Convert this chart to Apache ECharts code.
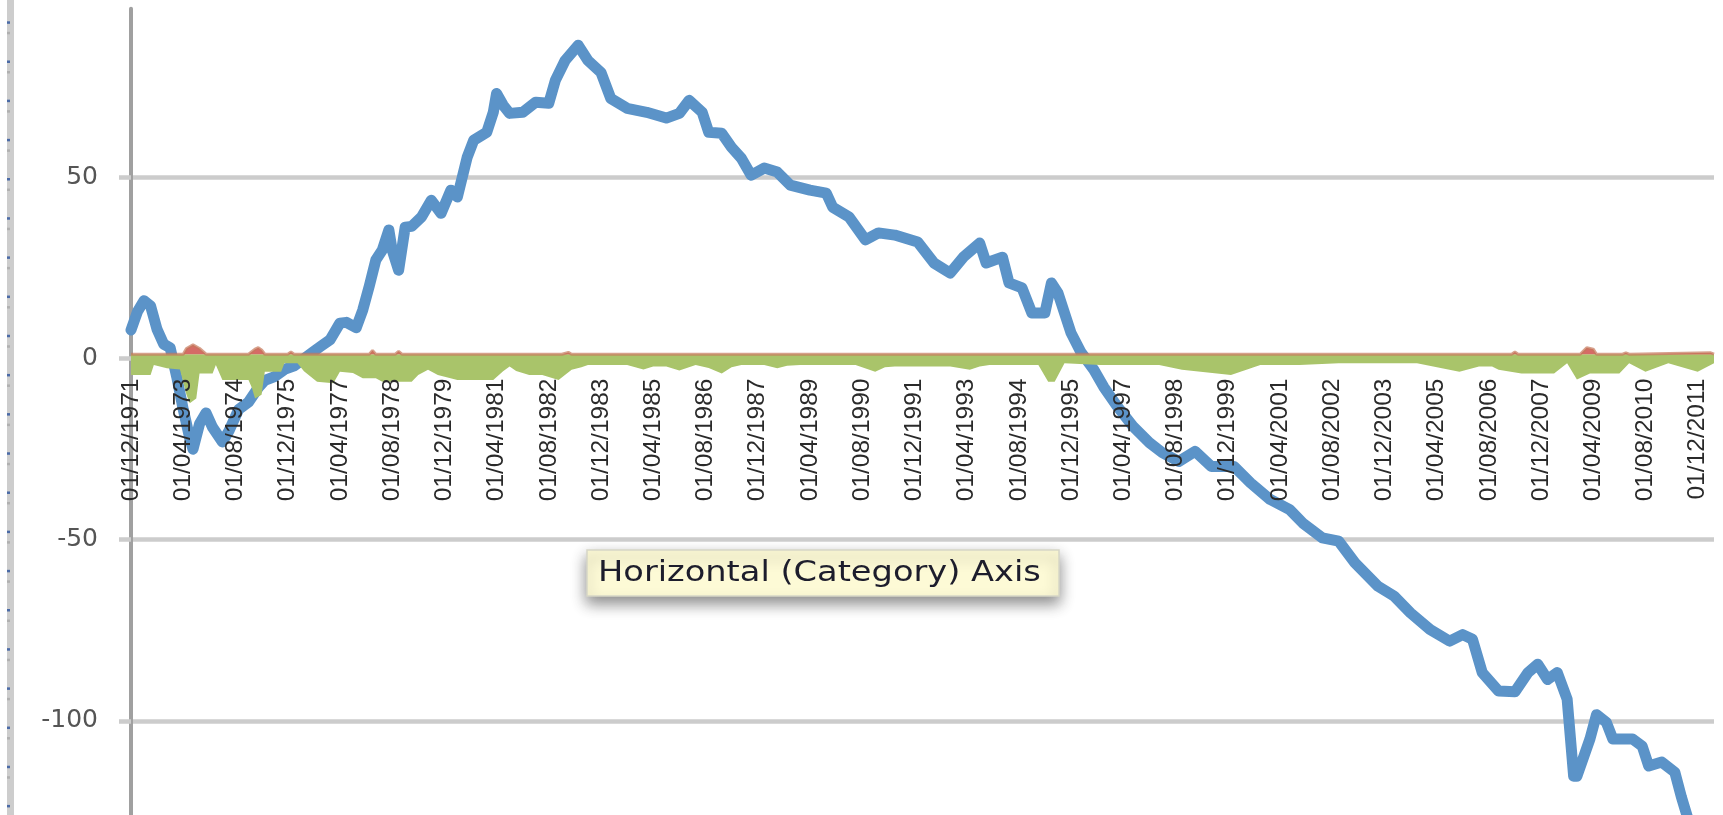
<!DOCTYPE html>
<html>
<head>
<meta charset="utf-8">
<script src="https://cdn.jsdelivr.net/npm/echarts@6/dist/echarts.min.js"></script>
<style>
html,body{margin:0;padding:0;background:#fff;}
#chart{width:1723px;height:815px;}
</style>
</head>
<body>
<div id="chart"></div>
<script>
// Month index 0 = Dec 1971 (monthly data)
const xTickLabels = ['01/12/1971','01/04/1973','01/08/1974','01/12/1975','01/04/1977','01/08/1978','01/12/1979','01/04/1981','01/08/1982','01/12/1983','01/04/1985','01/08/1986','01/12/1987','01/04/1989','01/08/1990','01/12/1991','01/04/1993','01/08/1994','01/12/1995','01/04/1997','01/08/1998','01/12/1999','01/04/2001','01/08/2002','01/12/2003','01/04/2005','01/08/2006','01/12/2007','01/04/2009','01/08/2010','01/12/2011'];
const yTickValues = [-150, -100, -50, 0, 50];
const yLabelValues = [-100, -50, 0, 50];

const blueMonth = [0,2,4,6,8,10,12,14,16,18,19,21,23,25,28,30,33,36,39,41,44,47,50,53,56,58,61,64,66,69,71,73,75,77,79,80,82,84,86,89,92,95,98,100,103,105,109,111,112,114,116,120,124,128,130,133,137,140,144,147,152,158,164,168,171,175,177,181,184,187,190,194,198,202,208,213,215,220,225,229,234,241,246,251,255,260,262,267,269,273,276,280,282,284,288,291,295,298,302,307,312,316,321,326,331,338,343,349,355,359,365,370,375,382,387,392,398,404,408,411,414,419,424,428,431,434,437,440,442,443,447,449,452,454,460,463,465,469,473,475,477,479];
const blueValue = [7.9,13,16,14.5,8,4,3,-5,-14,-22,-25,-18,-15,-19,-23,-20,-14,-12,-8,-6,-5,-3,-2,0,2,3.3,5.2,9.8,10,8.5,13.4,20,27.2,30,35.5,30,24.4,36.3,36.5,39.1,43.7,40.1,46.5,44.6,55.6,60.3,62.5,68,73.2,70,67.7,68,70.8,70.5,76.8,82.3,86.5,82.3,79,71.8,69.1,68,66.4,67.7,71.3,68,62.5,62.2,58.3,55.3,50.6,52.6,51.5,47.9,46.5,45.7,41.8,39.1,32.8,34.7,34.1,32.2,26.4,23.6,28,31.9,26.4,28,20.9,19.5,12.6,12.6,20.9,18.1,7.1,1.8,-3.1,-7.8,-13,-18.7,-23.2,-26,-28.4,-25.6,-29.8,-29.8,-34.3,-38.9,-41.7,-45.4,-49.5,-50.4,-56.4,-62.8,-65.6,-70.2,-74.8,-78,-76.2,-77.5,-86.7,-91.8,-92,-86.7,-84.4,-88.6,-86.7,-94,-115.3,-115.3,-105,-98.3,-100.4,-105,-105,-107,-112.5,-111.4,-114.2,-121,-127,-134];

const greenMonth = [0,6,7,11,15,17,18,20,21,25,26,28,36,37,38,40,41,46,47,51,53,57,62,64,68,71,75,77,86,88,91,94,100,111,114,116,118,122,126,131,135,138,140,152,157,160,164,168,173,177,181,184,187,194,198,201,205,222,228,231,234,251,257,260,263,278,281,283,286,297,315,322,337,346,358,370,394,407,413,417,419,426,436,440,443,447,456,459,464,471,480,485];
const greenValue = [-4.5,-4.5,-1.8,-2.7,-3,-10,-12.3,-11,-4.1,-4.1,-1.8,-5.9,-5.9,-8,-11,-10,-3.6,-3.6,-1.3,-1.3,-3.5,-6.4,-6.8,-3.6,-4,-5.4,-5.4,-6.4,-6.4,-4.5,-3.1,-4.5,-5.9,-5.9,-3.5,-2.2,-3.4,-4.5,-4.5,-5.9,-3.1,-2.4,-1.8,-1.8,-3.0,-2.2,-2.2,-3.3,-1.8,-2.6,-4.1,-2.4,-1.8,-1.8,-2.7,-2.0,-1.8,-1.8,-3.6,-2.4,-2.2,-2.2,-3.1,-2.2,-1.8,-1.8,-6.4,-6.4,-1.3,-1.8,-1.8,-3.1,-4.5,-1.8,-1.8,-1.3,-1.3,-3.6,-2.2,-2.2,-3.1,-4.1,-4.1,-1.3,-5.8,-4.1,-4.1,-1.3,-3.6,-1.3,-3.6,-1.3];

const redMonth = [0,16,17,19,21,23,36,38,39,40,41,48,49,50,73,74,75,81,82,83,132,134,135,423,424,425,444,446,448,449,457,458,459,484,485];
const redValue = [1.2,1.2,2.8,3.8,2.8,1.2,1.2,2.6,3.0,2.4,1.2,1.2,1.8,1.2,1.2,2.2,1.2,1.2,2.0,1.2,1.2,1.7,1.2,1.2,1.8,1.2,1.2,3.0,2.6,1.2,1.2,1.6,1.2,1.6,1.2];

function zip(a, b) { return a.map((v, i) => [v, b[i]]); }

const Y_MIN = -150, Y_MAX = 96.6;
const GRID_TOP = 8.7, GRID_BOTTOM = -86.9, CHART_H = 815;

const chart = echarts.init(document.getElementById('chart'), null, {renderer: 'canvas'});

// x axis sits at value 0 of the y axis: shift it up from the grid bottom
const plotH = CHART_H - GRID_TOP - GRID_BOTTOM;
const zeroShift = plotH * (0 - Y_MIN) / (Y_MAX - Y_MIN);

const dotGraphics = [];
dotGraphics.push({type: 'rect', shape: {x: 7, y: 0, width: 7, height: 815}, style: {fill: '#cdcdcd'}, z: 1});
for (let k = 0; k < 21; k++) {
  dotGraphics.push({type: 'rect', shape: {x: 7, y: 21.3 + 39.18 * k, width: 3, height: 2.5}, style: {fill: '#4a6aa6'}, z: 2});
  dotGraphics.push({type: 'rect', shape: {x: 7, y: 31.8 + 39.18 * k, width: 3, height: 2.5}, style: {fill: '#b0b0b0'}, z: 2});
}

chart.setOption({
  animation: false,
  backgroundColor: '#ffffff',
  grid: {left: 131, right: 9, top: GRID_TOP, bottom: GRID_BOTTOM, containLabel: false, outerBoundsMode: 'none'},
  xAxis: {
    type: 'value',
    position: 'bottom',
    offset: -zeroShift,
    min: 0,
    max: 485,
    interval: 16,
    z: 6,
    axisLine: {show: false, onZero: false},
    axisTick: {show: false},
    splitLine: {show: false},
    axisLabel: {
      show: true,
      rotate: 90,
      margin: 20,
      showMinLabel: true,
      showMaxLabel: false,
      hideOverlap: false,
      color: '#2a2a2a',
      fontFamily: "'Liberation Sans', sans-serif",
      fontSize: 24.5,
      formatter: function (v) {
        const i = Math.round(v / 16);
        return (Math.abs(v - i * 16) < 1e-6 && xTickLabels[i]) ? xTickLabels[i] : '';
      }
    }
  },
  yAxis: {
    type: 'value',
    min: Y_MIN,
    max: Y_MAX,
    axisLine: {show: true, onZero: false, lineStyle: {color: '#a0a0a0', width: 4}},
    axisTick: {show: true, length: 12, customValues: yTickValues, lineStyle: {color: '#cccccc', width: 4.5}},
    splitLine: {show: true, lineStyle: {color: '#cccccc', width: 4.5}},
    axisLabel: {
      customValues: yLabelValues,
      margin: 33,
      color: '#555555',
      fontFamily: "'DejaVu Sans', sans-serif",
      fontSize: 25,
      verticalAlign: 'middle',
      padding: [5, 0, 0, 0]
    }
  },
  series: [
    {
      name: 'Blue', type: 'line', z: 2, symbol: 'none',
      data: zip(blueMonth, blueValue),
      lineStyle: {color: '#5b93c8', width: 11, cap: 'round', join: 'round'}
    },
    {
      name: 'Green', type: 'line', z: 3, symbol: 'none',
      data: zip(greenMonth, greenValue),
      lineStyle: {width: 0, color: '#a9c46a'},
      areaStyle: {color: '#a9c46a', opacity: 1, origin: 1.2}
    },
    {
      name: 'Red', type: 'line', z: 4, symbol: 'none',
      data: zip(redMonth, redValue),
      lineStyle: {width: 3, color: 'rgba(196,120,90,0.7)'},
      areaStyle: {color: '#d56b66', opacity: 1, origin: 1.2}
    }
  ],
  graphic: dotGraphics.concat([
    {
      type: 'group', z: 100,
      children: [
        {type: 'rect', shape: {x: 587, y: 550, width: 472, height: 46},
         style: {fill: '#fdfad6', stroke: '#d6d6c6', lineWidth: 1.5, shadowBlur: 14, shadowOffsetY: 7, shadowColor: 'rgba(0,0,0,0.45)'}},
        {type: 'text', x: 598, y: 573, scaleX: 1.16,
         style: {text: 'Horizontal (Category) Axis', font: "29px 'DejaVu Sans'", fill: '#1d1d2c', textVerticalAlign: 'middle', textAlign: 'left'}}
      ]
    }
  ])
});
</script>
</body>
</html>
